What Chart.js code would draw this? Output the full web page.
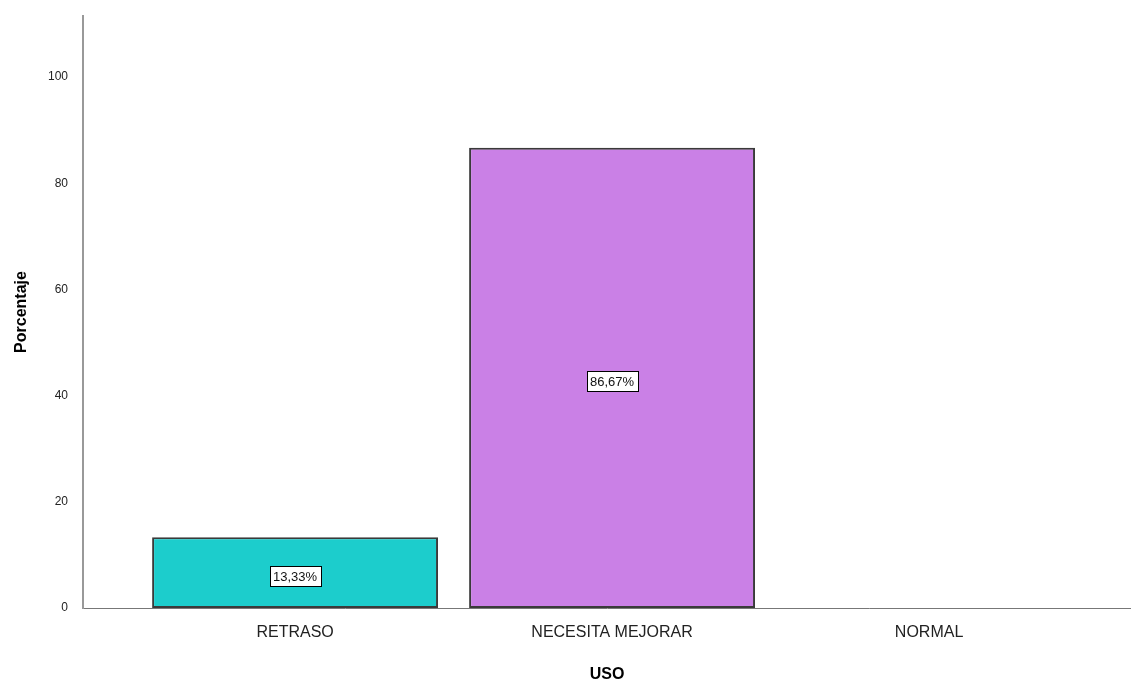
<!DOCTYPE html>
<html>
<head>
<meta charset="utf-8">
<script src="https://cdn.jsdelivr.net/npm/chart.js@4.4.1/dist/chart.umd.min.js"></script>
<style>
  html, body { margin:0; padding:0; background:#fff; }
  #wrap { width:1131px; height:684px; }
</style>
</head>
<body>
<div id="wrap"><canvas id="chart"></canvas></div>
<script>
// ---- data ----
const categories = ['RETRASO', 'NECESITA MEJORAR', 'NORMAL'];
const percents   = [13.33, 86.67, 0];
const barColors  = ['#1ccdcc', '#ca80e6', '#cccccc'];
const yTicks     = [0, 20, 40, 60, 80, 100];

const fmtPct = v => v.toFixed(2).replace('.', ',') + '%';

// boxed value labels in the middle of each bar
const boxLabels = {
  id: 'boxLabels',
  afterDatasetsDraw(chart) {
    const ctx = chart.ctx;
    const meta = chart.getDatasetMeta(0);
    ctx.save();
    ctx.font = '13px "Liberation Sans", Arial, sans-serif';
    ctx.textAlign = 'center';
    ctx.textBaseline = 'middle';
    meta.data.forEach((bar, i) => {
      if (!percents[i]) return;
      const { x, y, base } = bar.getProps(['x', 'y', 'base'], true);
      const cy = Math.round((y + base) / 2) + 3;
      const txt = fmtPct(percents[i]);
      const w = Math.ceil(ctx.measureText(txt).width) + 6;
      const h = 20;
      const lx = Math.round(x - w / 2) + 0.5, ly = Math.round(cy - h / 2) + 0.5;
      ctx.fillStyle = '#fff';
      ctx.fillRect(lx, ly, w, h);
      ctx.strokeStyle = '#000';
      ctx.lineWidth = 1;
      ctx.strokeRect(lx, ly, w, h);
      ctx.fillStyle = '#111';
      ctx.fillText(txt, x, cy + 1);
    });
    ctx.restore();
  }
};

new Chart(document.getElementById('chart'), {
  type: 'bar',
  data: {
    datasets: [{
      data: percents.map((v, i) => ({ x: i, y: v })),
      backgroundColor: barColors,
      borderColor: '#3a3a3a',
      borderWidth: 2,
      borderSkipped: false,
      categoryPercentage: 1,
      barPercentage: 0.902
    }]
  },
  options: {
    responsive: true,
    maintainAspectRatio: false,
    animation: false,
    layout: { padding: { top: 16, right: 0, left: 0, bottom: 0 } },
    plugins: { legend: { display: false }, tooltip: { enabled: false } },
    scales: {
      x: {
        type: 'linear',
        offset: false,
        min: -0.669,
        max: 2.637,
        afterBuildTicks: s => { s.ticks = categories.map((c, i) => ({ value: i })); },
        afterFit: s => { s.height = 76; s.paddingLeft = 0; s.paddingRight = 0; },
        grid: { display: false, drawTicks: false },
        border: { display: true, color: '#777', width: 1 },
        ticks: {
          callback: v => categories[v] ?? '',
          color: '#222',
          padding: 15,
          maxRotation: 0,
          autoSkip: false,
          font: { family: '"Liberation Sans", Arial, sans-serif', size: 16 }
        },
        title: {
          display: true,
          text: 'USO',
          color: '#000',
          padding: { top: 0, bottom: 0 },
          font: { family: '"Liberation Sans", Arial, sans-serif', size: 16, weight: 'bold' }
        }
      },
      y: {
        min: 0,
        max: 111.5,
        afterBuildTicks: s => { s.ticks = yTicks.map(v => ({ value: v })); },
        afterFit: s => { s.width = 83; s.paddingTop = 0; s.paddingBottom = 0; },
        grid: { display: false, drawTicks: false },
        border: { display: true, color: '#999', width: 2 },
        ticks: {
          color: '#222',
          padding: 15,
          font: { family: '"Liberation Sans", Arial, sans-serif', size: 12 }
        },
        title: {
          display: true,
          text: 'Porcentaje',
          color: '#000',
          padding: { top: 12, bottom: 0 },
          font: { family: '"Liberation Sans", Arial, sans-serif', size: 16, weight: 'bold' }
        }
      }
    }
  },
  plugins: [boxLabels]
});
</script>
</body>
</html>
